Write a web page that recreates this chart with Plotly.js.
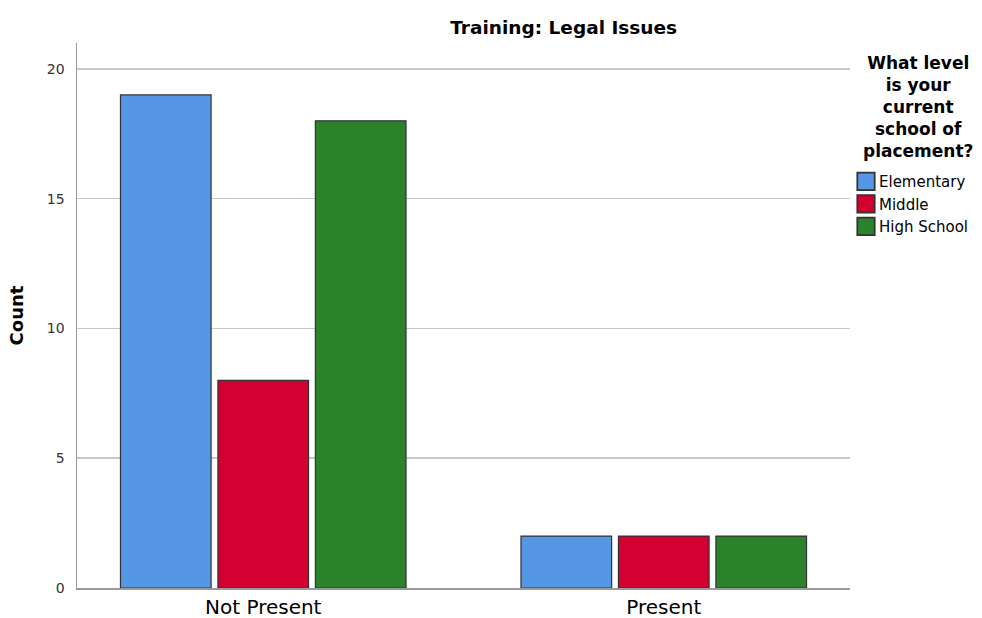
<!DOCTYPE html>
<html>
<head>
<meta charset="utf-8">
<script src="https://cdn.plot.ly/plotly-3.0.1.min.js"></script>
<style>html,body{margin:0;padding:0;background:#fff;}#chart{width:982px;height:618px;}</style>
</head>
<body>
<div id="chart"></div>
<script>
const categories = ["Not Present", "Present"];
const seriesNames = ["Elementary", "Middle", "High School"];
const elementary = [19, 2];
const middle = [8, 2];
const highSchool = [18, 2];
const yTicks = [0, 5, 10, 15, 20];
const colors = ["#5596E5", "#D50032", "#2A832B"];

const FONT = "DejaVu Sans, Verdana, sans-serif";
const seriesValues = [elementary, middle, highSchool];
const traces = seriesNames.map((name, i) => ({
  type: "bar",
  name: name,
  x: categories,
  y: seriesValues[i],
  marker: { color: colors[i], line: { color: "#333333", width: 1.2 } },
  hoverinfo: "x+y+name"
}));

const layout = {
  width: 982,
  height: 618,
  paper_bgcolor: "#ffffff",
  plot_bgcolor: "#ffffff",
  margin: { l: 77, r: 132, t: 43, b: 30, autoexpand: false },
  barmode: "group",
  bargap: 0.27,
  bargroupgap: 0.07,
  font: { family: FONT, color: "#000" },
  title: {
    text: "<b>Training: Legal Issues</b>",
    font: { family: FONT, size: 18.5, color: "#000" },
    x: 0.574, xref: "container", xanchor: "center",
    y: 0.955, yref: "container", yanchor: "middle"
  },
  xaxis: {
    type: "category",
    range: [-0.465, 1.465],
    showgrid: false,
    showline: true,
    linecolor: "#9a9a9a",
    linewidth: 1.5,
    ticks: "",
    tickfont: { family: FONT, size: 20, color: "#000" },
    zeroline: false,
    automargin: false,
    fixedrange: true
  },
  yaxis: {
    range: [0, 21],
    tickvals: yTicks,
    ticktext: yTicks.map(String),
    showgrid: true,
    gridcolor: "#c8c8c8",
    gridwidth: 1.5,
    showline: true,
    linecolor: "#9a9a9a",
    linewidth: 1.5,
    ticks: "",
    ticklabelstandoff: 8,
    tickfont: { family: FONT, size: 14, color: "#333" },
    zeroline: false,
    automargin: false,
    title: {
      text: "<b>Count</b>",
      font: { family: FONT, size: 18, color: "#000" },
      standoff: 18
    },
    fixedrange: true
  },
  showlegend: true,
  legend: {
    x: 846 / 982, xref: "container", xanchor: "left",
    y: 0.776, yref: "paper", yanchor: "top",
    font: { family: FONT, size: 15, color: "#000" },
    itemwidth: 30,
    tracegroupgap: 0,
    bgcolor: "rgba(0,0,0,0)",
    traceorder: "normal"
  },
  annotations: [{
    text: "<b>What level<br>is your<br>current<br>school of<br>placement?</b>",
    xref: "paper", yref: "paper",
    x: 1.088, y: 0.985,
    xanchor: "center", yanchor: "top",
    align: "center",
    showarrow: false,
    font: { family: FONT, size: 17, color: "#000" }
  }]
};

Plotly.newPlot("chart", traces, layout, { displayModeBar: false, staticPlot: true }).then(() => {
  document.querySelectorAll("#chart .legend .legendpoints path").forEach(p => {
    const t = p.getAttribute("transform") || "";
    p.setAttribute("transform", t + " scale(1.45)");
  });
  document.querySelectorAll("#chart .legend text.legendtext").forEach(t => {
    t.setAttribute("x", "33");
  });
});
</script>
</body>
</html>
